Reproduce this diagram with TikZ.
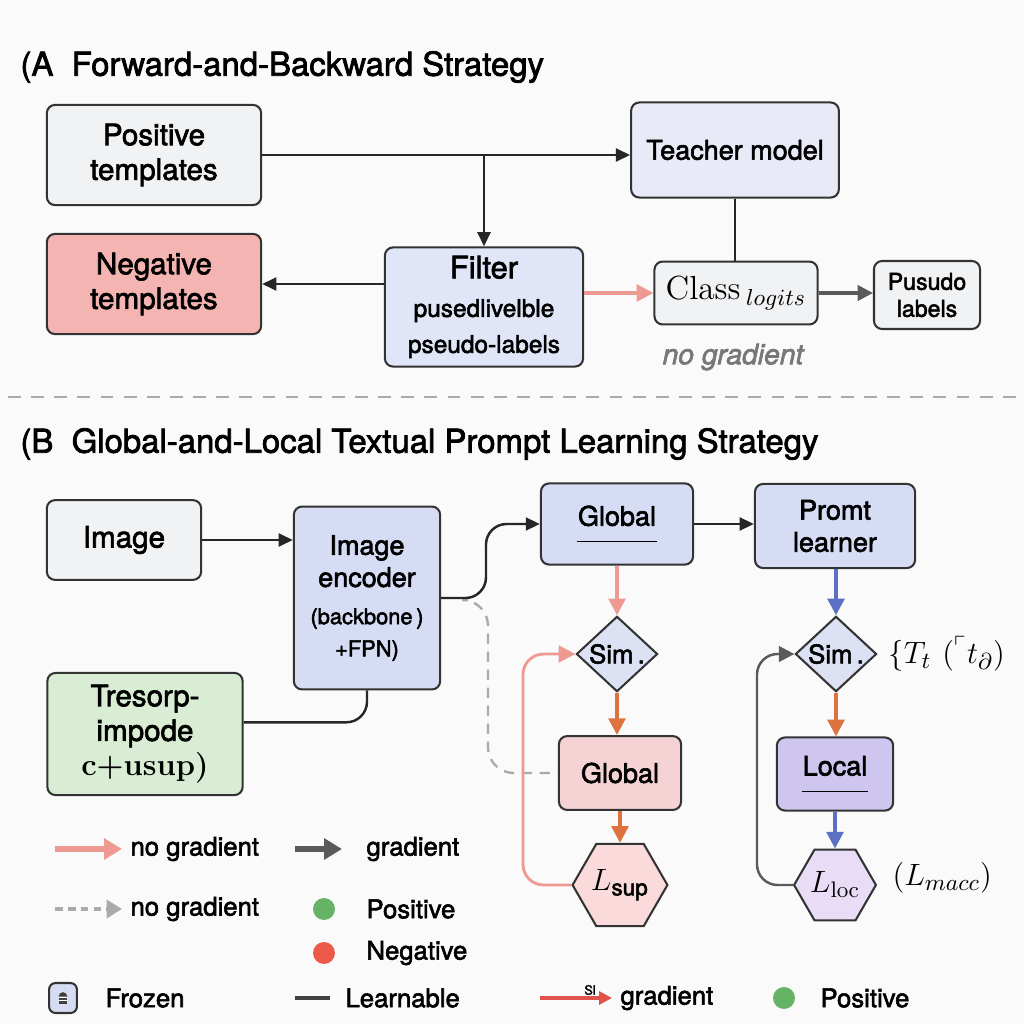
\documentclass[tikz,border=0pt]{standalone}
\usepackage{fontspec}
\usepackage{amsmath,amssymb}
\setsansfont{TeX Gyre Heros}[FakeBold=2.2]
\usetikzlibrary{shapes.geometric,arrows.meta,positioning,calc}
\definecolor{bgcolor}{HTML}{FAFAFA}
\definecolor{greycolor}{HTML}{F1F2F4}
\definecolor{teachercolor}{HTML}{E8EAF7}
\definecolor{filtercolor}{HTML}{E0E6F8}
\definecolor{negcolor}{HTML}{F4B4B1}
\definecolor{bluecolor}{HTML}{D6DCF3}
\definecolor{simcolor}{HTML}{DCE1F4}
\definecolor{greencolor}{HTML}{D8EDD4}
\definecolor{pinkcolor}{HTML}{F5D2D4}
\definecolor{localcolor}{HTML}{CEC6EE}
\definecolor{lsupcolor}{HTML}{FBDADB}
\definecolor{lloccolor}{HTML}{E8DCF6}
\definecolor{pinkline}{HTML}{EE9A92}
\definecolor{orangeline}{HTML}{DD7440}
\definecolor{blueline}{HTML}{5B70C2}
\definecolor{greyline}{HTML}{5A5A5A}
\definecolor{dashcolor}{HTML}{AAAAAA}
\definecolor{nogradtext}{HTML}{777777}
\definecolor{posdotcolor}{HTML}{66B366}
\definecolor{negdotcolor}{HTML}{EE5A4A}
\definecolor{redline}{HTML}{E0524A}

\begin{document}
\begin{tikzpicture}[x=0.01367cm, y=-0.01367cm,
  >={Triangle[length=5.5pt,width=5pt]},
  box/.style={rectangle, rounded corners=3.2pt, draw=black!80, line width=0.8pt, align=center, inner sep=2pt, font=\sffamily\fontsize{11.5}{13.5}\selectfont},
  greybox/.style={box, fill=greycolor},
  bluebox/.style={box, fill=bluecolor, font=\sffamily\fontsize{10.5}{12.5}\selectfont},
  sim/.style={diamond, draw=black!80, line width=0.8pt, fill=simcolor, minimum width=1.11cm, minimum height=1.01cm, inner sep=0pt, font=\sffamily\fontsize{10}{11}\selectfont},
  loss/.style={regular polygon, regular polygon sides=6, draw=black!80, line width=0.8pt, minimum size=0.98cm, inner sep=0pt, font=\fontsize{12.5}{14}\selectfont},
  title/.style={anchor=west, inner sep=0pt, font=\sffamily\fontsize{12.8}{15}\selectfont},
  legend/.style={anchor=west, inner sep=0pt, font=\sffamily\fontsize{10}{12}\selectfont},
  dot/.style={circle, minimum size=0.3cm, inner sep=0pt},
  flow/.style={draw=black!85, line width=0.95pt},
  pinkarrow/.style={draw=pinkline, line width=1.4pt, -{Triangle[length=6.5pt,width=6.5pt]}},
  orangearrow/.style={draw=orangeline, line width=1.4pt, -{Triangle[length=6.5pt,width=6.5pt]}},
  bluearrow/.style={draw=blueline, line width=1.4pt, -{Triangle[length=6.5pt,width=6.5pt]}},
  greyarrow/.style={draw=greyline, line width=1.2pt, -{Triangle[length=6pt,width=6pt]}},
  dashline/.style={draw=dashcolor, line width=0.9pt, dash pattern=on 4pt off 3pt}
]

\fill[bgcolor] (0,0) rectangle (1024,1024);

% (A) Forward-and-Backward
\node[title] (titleA) at (20,67) {(A\ \ Forward-and-Backward Strategy};
\node[greybox, minimum width=2.93cm, minimum height=1.37cm] (postpl) at (154,155) {Positive\\templates};
\node[box, fill=teachercolor, minimum width=2.84cm, minimum height=1.30cm, font=\sffamily\fontsize{10.5}{12.5}\selectfont] (teacher) at (735,150) {Teacher model};
\node[box, fill=negcolor, minimum width=2.93cm, minimum height=1.37cm] (negtpl) at (154,284) {Negative\\templates};
\node[box, fill=filtercolor, minimum width=2.71cm, minimum height=1.63cm, font=\sffamily\fontsize{12}{14}\selectfont] (filter) at (484,307) {Filter\\[1pt]{\fontsize{9.5}{10}\selectfont pusedlivelble}\\{\fontsize{9.5}{10}\selectfont pseudo-labels}};
\node[greybox, minimum width=2.23cm, minimum height=0.86cm, font=\rmfamily\fontsize{13}{15}\selectfont] (logits) at (736,293) {Class\,$_{logits}$};
\node[greybox, minimum width=1.45cm, minimum height=0.93cm, font=\sffamily\fontsize{9}{10.5}\selectfont] (pseudo) at (927,295) {Pusudo\\labels};
\node[font=\sffamily\itshape\fontsize{11}{13}\selectfont, text=nogradtext] (nograd) at (733,357) {no gradient};

% (A) connections
\draw[flow, ->] (postpl.east) -- (postpl.east -| teacher.west);
\draw[flow, ->] (postpl.east -| filter.north) -- (filter.north);
\draw[flow, ->] (filter.west |- negtpl.east) -- (negtpl.east);
\draw[flow] (teacher.south) -- (teacher.south |- logits.north);
\draw[pinkarrow] (filter.east |- logits.west) -- (logits.west);
\draw[greyarrow] (logits.east) -- (logits.east -| pseudo.west);

% separator
\draw[dashline, dash pattern=on 5pt off 4pt] (8,397) -- (1016,397);

% (B) Global-and-Local
\node[title] (titleB) at (20,444) {(B\ \ Global-and-Local Textual Prompt Learning Strategy};
\node[greybox, minimum width=2.11cm, minimum height=1.09cm] (image) at (124,540) {Image};
\node[bluebox, minimum width=2.00cm, minimum height=2.50cm] (encoder) at (367,598) {Image\\encoder\\[2pt]{\fontsize{8.5}{11}\selectfont (backbone\,)}\\{\fontsize{8.5}{11}\selectfont +FPN)}};
\node[box, fill=greencolor, minimum width=2.67cm, minimum height=1.67cm] (tresorp) at (145,734) {Tresorp-\\impode\\{\rmfamily\bfseries\fontsize{12}{13.5}\selectfont c+usup)}};
\node[bluebox, minimum width=2.08cm, minimum height=1.11cm] (globaltop) at (617,524) {Global\\[-6pt]\rule{1.1cm}{0.6pt}};
\node[bluebox, minimum width=2.19cm, minimum height=1.15cm] (prompt) at (835,526) {Promt\\learner};
\node[sim] (simglobal) at (617,654) {Sim\,.};
\node[sim] (simlocal) at (836,654) {Sim\,.};
\node[box, fill=pinkcolor, minimum width=1.67cm, minimum height=1.01cm, font=\sffamily\fontsize{10.5}{12.5}\selectfont] (globalpink) at (620,773) {Global};
\node[box, fill=localcolor, minimum width=1.59cm, minimum height=1.00cm, font=\sffamily\fontsize{10.5}{12.5}\selectfont] (local) at (835,774) {Local\\[-6pt]\rule{0.89cm}{0.6pt}};
\node[loss, fill=lsupcolor] (lsup) at (620,885) {$L_{\textsf{sup}}$};
\node[loss, fill=lloccolor] (lloc) at (835,885) {$L_{\mathrm{loc}}$};
\node[anchor=west, inner sep=0pt, font=\fontsize{13}{15}\selectfont] (ttlabel) at (888,654) {$\{T_t\ ({}^{\ulcorner}t_{\partial})$};
\node[anchor=west, inner sep=0pt, font=\fontsize{13}{15}\selectfont] (lmacc) at (892,878) {$(L_{macc})$};

% (B) connections
\coordinate (split) at (468,600);
\draw[flow, ->] (image.east) -- (image.east -| encoder.west);
\draw[flow, rounded corners=8pt] ([yshift=0.16cm]tresorp.east) -| (encoder.south);
\draw[dashline, rounded corners=10pt] (split) -| (488,773) -- (globalpink.west);
\draw[flow, ->, rounded corners=8pt] (encoder.east) -- (486,598) -- (486,524) -- (globaltop.west);
\draw[flow, ->] (globaltop.east) -- (globaltop.east -| prompt.west);
\draw[pinkarrow] (globaltop.south) -- (simglobal.north);
\draw[orangearrow] (simglobal.south) -- (globalpink.north -| simglobal.south);
\draw[orangearrow] (globalpink.south -| lsup.north) -- (lsup.north);
\draw[pinkarrow, line width=1.1pt, rounded corners=8pt] (lsup.west) -- (523,885) -- (523,654) -- (simglobal.west);
\draw[bluearrow] (prompt.south -| simlocal.north) -- (simlocal.north);
\draw[orangearrow] (simlocal.south) -- (local.north -| simlocal.south);
\draw[bluearrow] (local.south) -- (lloc.north);
\draw[greyarrow, line width=0.95pt, rounded corners=8pt] (lloc.west) -- (757,885) -- (757,654) -- (simlocal.west);

% legend
\coordinate (lgpinka) at (55,849); \coordinate (lgpinkb) at (122,849);
\coordinate (lggreya) at (295,849); \coordinate (lggreyb) at (342,849);
\coordinate (lgdasha) at (55,909); \coordinate (lgdashb) at (122,909);
\coordinate (lglearna) at (295,998); \coordinate (lglearnb) at (330,998);
\coordinate (lgreda) at (540,998); \coordinate (lgredb) at (612,998);
\draw[pinkarrow, line width=2pt, -{Triangle[length=7pt,width=8pt]}] (lgpinka) -- (lgpinkb);
\node[legend] (lgnograd) at (130,849) {no gradient};
\draw[greyarrow, line width=2pt, -{Triangle[length=7pt,width=8pt]}] (lggreya) -- (lggreyb);
\node[legend] (lggrad) at (366,849) {gradient};
\draw[dashline, line width=1.4pt, dash pattern=on 3pt off 2pt, -{Triangle[length=6pt,width=7pt]}] (lgdasha) -- (lgdashb);
\node[legend] (lgnograddash) at (130,909) {no gradient};
\node[dot, fill=posdotcolor] (posdot) at (324,909) {};
\node[legend] (lgpos) at (366,909) {Positive};
\node[dot, fill=negdotcolor] (negdot) at (324,953) {};
\node[legend] (lgneg) at (366,953) {Negative};
\node[draw=black!80, line width=0.8pt, fill=bluecolor, rounded corners=2.5pt, minimum width=0.38cm, minimum height=0.41cm] (frozenicon) at (63,998) {};
\fill[black!75] ([shift={(-0.06cm,-0.08cm)}]frozenicon.center) rectangle ([shift={(0.06cm,0.02cm)}]frozenicon.center);
\fill[black!75] ([shift={(-0.06cm,0.02cm)}]frozenicon.center) arc[start angle=180, end angle=0, radius=0.06cm] -- cycle;
\draw[white, line width=0.3pt] ([shift={(-0.06cm,-0.03cm)}]frozenicon.center) -- ++(0.12cm,0) ([shift={(-0.06cm,0.01cm)}]frozenicon.center) -- ++(0.12cm,0);
\node[legend] (lgfrozen) at (105,998) {Frozen};
\draw[flow, line width=1.8pt, draw=black!75] (lglearna) -- (lglearnb);
\node[legend] (lglearn) at (345,998) {Learnable};
\draw[draw=redline, line width=1.5pt, -{Triangle[length=5pt,width=5pt]}] (lgreda) -- (lgredb);
\node[inner sep=0pt, font=\sffamily\fontsize{5}{6}\selectfont] (lgsl) at (590,990) {Sl};
\node[legend] (lggrad2) at (620,998) {gradient};
\node[dot, fill=posdotcolor] (posdot2) at (784,998) {};
\node[legend] (lgpos2) at (820,998) {Positive};

\end{tikzpicture}
\end{document}
